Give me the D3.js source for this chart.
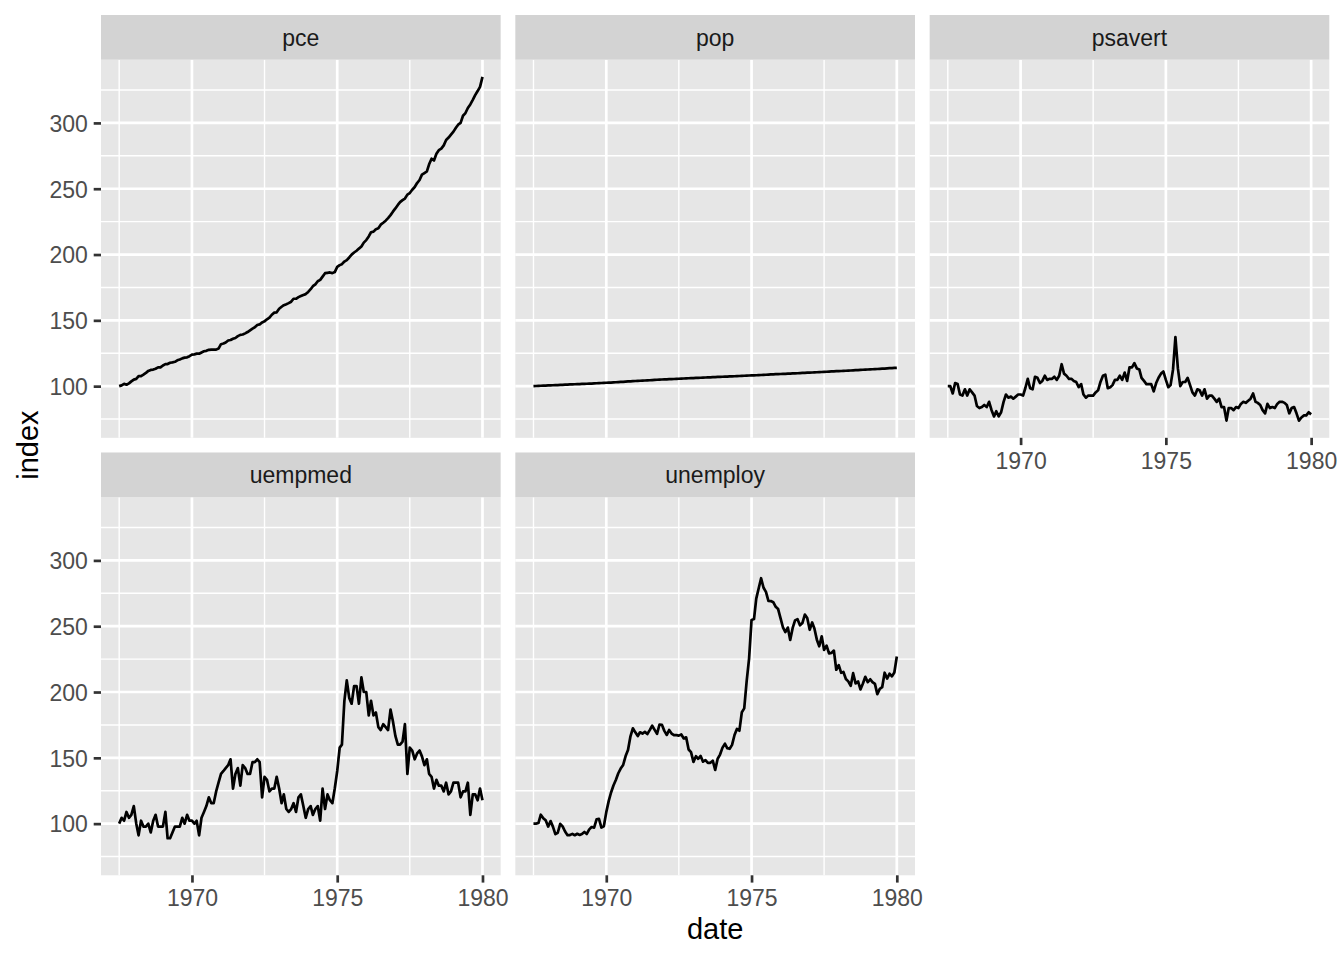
<!DOCTYPE html>
<html><head><meta charset="utf-8">
<script src="https://cdn.jsdelivr.net/npm/d3@7"></script>
<style>
body{margin:0;background:#fff}
svg{display:block}
text{font-family:"Liberation Sans",Arial,Helvetica,sans-serif}
</style>
</head><body>
<svg id="chart" width="1344" height="960"></svg>
<script>
// ---- data (economics, 1967-07 .. 1980-01, monthly) ----
const facetNames = ["pce", "pop", "psavert", "uempmed", "unemploy"];
const startMonth = [1967, 6];   // July 1967 (0-based month)
const endMonth = [1980, 0];     // January 1980
const xTickYears = [1970, 1975, 1980];
const xMinorYears = [1967.5, 1972.5, 1977.5];
const yTicks = [100, 150, 200, 250, 300];
const yMinor = [75, 125, 175, 225, 275, 325];

const pce = [
506.7,509.8,515.6,512.2,517.4,525.1,
532.0,534.7,545.4,545.1,550.9,557.4,565.5,569.3,570.5,573.9,579.0,578.8,
586.4,591.6,591.8,596.9,598.4,600.5,606.3,609.3,613.7,616.4,617.7,622.1,
628.0,629.2,631.8,631.7,636.5,640.9,642.6,646.7,647.4,647.1,647.3,651.5,
668.2,670.7,674.8,682.5,684.3,689.1,692.2,699.4,704.2,705.5,709.9,715.0,
721.7,728.4,733.3,742.1,744.3,752.1,756.2,764.0,770.3,781.7,789.7,791.0,
804.6,812.4,818.4,822.2,826.3,831.8,843.2,843.1,849.4,853.8,857.9,861.0,
869.6,880.0,891.5,898.5,910.5,916.0,928.5,941.6,943.1,944.4,941.8,946.0,
965.8,972.6,976.4,986.4,991.7,1002.1,1013.0,1021.1,1028.1,1036.3,1044.2,1059.4,
1068.9,1083.0,1099.2,1101.6,1110.8,1114.3,1128.4,1135.8,1143.7,1153.5,1165.1,1178.4,
1190.9,1204.4,1215.1,1222.8,1228.8,1244.0,1250.1,1262.8,1273.3,1288.7,1300.3,1321.0,
1327.1,1333.4,1360.7,1382.1,1375.4,1401.1,1415.1,1421.0,1433.5,1454.3,1463.8,1475.1,
1486.6,1501.4,1513.2,1520.0,1547.7,1558.1,1577.7,1591.4,1608.9,1626.9,1642.7,1659.1,
1697.3];

const pop = [
198712,198911,199113,199311,199498,199657,
199808,199920,200056,200208,200361,200536,200706,200898,201095,201290,201466,201621,
201760,201881,202023,202161,202331,202507,202677,202877,203090,203302,203500,203675,
203849,204008,204156,204401,204607,204830,205052,205295,205540,205788,206024,206238,
206466,206668,206855,207065,207260,207462,207661,207881,208114,208345,208555,208740,
208917,209061,209212,209386,209545,209725,209896,210075,210268,210465,210642,210807,
210985,211120,211254,211420,211577,211746,211909,212092,212289,212475,212634,212785,
212932,213074,213211,213361,213513,213686,213854,214042,214246,214451,214625,214782,
214931,215065,215198,215353,215523,215768,215973,216195,216393,216587,216771,216931,
217095,217249,217381,217528,217685,217861,218035,218233,218440,218644,218834,219006,
219179,219344,219504,219684,219859,220046,220239,220458,220688,220904,221109,221303,
221477,221629,221792,221991,222176,222379,222585,222805,223053,223271,223477,223670,
223865,224053,224235,224438,224632,224843,225055,225295,225547,225801,226027,226243,
226451];

const psavert = [
12.6,12.6,11.9,12.9,12.8,11.8,
11.7,12.3,11.7,12.3,12.0,11.7,10.7,10.5,10.6,10.8,10.6,11.1,
10.3,9.7,10.2,9.7,10.1,11.1,11.8,11.5,11.6,11.4,11.6,11.8,
11.8,11.7,12.4,13.3,12.4,12.3,13.5,13.4,12.9,13.1,13.6,13.2,
13.3,13.3,13.5,13.2,13.6,14.7,13.8,13.6,13.3,13.3,13.1,13.0,
12.5,12.8,11.8,11.5,11.7,11.7,11.7,12.0,12.2,13.0,13.6,13.7,
12.4,12.5,12.7,13.2,13.2,13.6,13.2,13.9,13.1,14.4,14.4,14.8,
14.3,14.2,13.4,13.1,12.8,12.8,12.8,12.1,12.9,13.4,13.8,14.0,
13.2,12.5,12.7,14.2,17.3,14.3,12.6,13.0,13.0,13.4,12.7,12.0,
11.7,12.3,12.2,11.7,12.3,11.4,11.7,11.7,11.4,11.1,11.4,10.6,
10.6,9.3,10.5,10.5,10.3,10.6,10.5,10.9,11.1,11.0,11.2,11.4,
11.9,11.1,11.0,10.8,10.3,10.0,10.9,10.5,10.6,10.5,10.9,11.1,
11.1,11.0,10.8,10.0,10.5,10.6,10.0,9.3,9.6,9.8,9.8,10.1,
9.9];

const uempmed = [
4.5,4.7,4.6,4.9,4.7,4.8,
5.1,4.5,4.1,4.6,4.4,4.4,4.5,4.2,4.6,4.8,4.4,4.4,
4.4,4.9,4.0,4.0,4.2,4.4,4.4,4.4,4.7,4.5,4.8,4.6,
4.6,4.5,4.6,4.1,4.7,4.9,5.1,5.4,5.2,5.2,5.6,5.9,
6.2,6.3,6.4,6.5,6.7,5.7,6.2,6.4,5.8,6.5,6.4,6.2,
6.2,6.6,6.6,6.7,6.6,5.4,6.1,6.0,5.6,5.7,5.7,6.1,
5.7,5.2,5.5,5.0,4.9,5.0,5.2,4.9,5.4,5.5,5.1,4.7,
5.0,5.1,4.8,5.0,5.1,4.6,5.7,5.0,5.5,5.3,5.2,5.7,
6.3,7.1,7.2,8.7,9.4,8.8,8.6,9.2,9.2,8.6,9.5,9.0,
9.0,8.2,8.7,8.2,8.3,7.8,7.7,7.9,7.8,7.7,8.4,8.0,
7.5,7.2,7.2,7.3,7.9,6.2,7.1,7.0,6.7,6.9,7.0,6.8,
6.5,6.7,6.2,6.1,5.7,6.0,5.8,5.8,5.6,5.9,5.5,5.6,
5.9,5.9,5.9,5.4,5.6,5.6,5.9,4.8,5.5,5.5,5.3,5.7,
5.3];

const unemploy = [
2944,2945,2958,3143,3066,3018,
2878,3001,2877,2709,2740,2938,2883,2768,2686,2689,2715,2685,
2718,2692,2712,2758,2713,2816,2868,2856,3040,3049,2856,2884,
3201,3453,3635,3797,3919,4071,4175,4256,4456,4591,4898,5076,
4986,4903,4987,4959,4996,4949,5035,5134,5042,4954,5161,5154,
5019,4928,5038,4959,4922,4923,4913,4939,4849,4875,4602,4543,
4326,4452,4394,4459,4329,4363,4305,4305,4350,4144,4396,4489,
4644,4731,4634,4618,4705,4927,5063,5022,5437,5523,6140,6636,
7501,7520,7978,8210,8433,8220,8127,7928,7923,7897,7794,7744,
7534,7326,7230,7330,7053,7322,7490,7518,7380,7430,7620,7545,
7280,7443,7307,7059,6911,7134,6829,6925,6751,6763,6815,6386,
6489,6318,6337,6180,6127,6028,6309,6080,6125,5947,6077,6228,
6109,6173,6109,6069,5840,5959,5996,6320,6190,6296,6238,6325,
6683];

// ---- build index table ----
const seriesList = [pce, pop, psavert, uempmed, unemploy];
const d0 = new Date(Date.UTC(startMonth[0], startMonth[1], 1));
const d1 = new Date(Date.UTC(endMonth[0], endMonth[1], 1));
const dates = d3.utcMonth.range(d0, new Date(+d1 + 86400000));
const facets = facetNames.map((name, k) => {
  const s = seriesList[k];
  return {name, k, values: s.map((v, i) => ({date: dates[i], index: v / s[0] * 100}))};
});

// ---- layout ----
const svg = d3.select("#chart");
const areaLeft = 101, areaRight = 1329.3, areaTop = 15, areaBottom = 875.3;
const gap = 14.67, stripH = 44.7;
const panelW = (areaRight - areaLeft - 2 * gap) / 3;
const panelH = (areaBottom - areaTop - gap) / 2 - stripH;
const textCol = "#4D4D4D";

const span = d1 - d0;
const x = d3.scaleUtc()
  .domain([new Date(+d0 - span * 0.05), new Date(+d1 + span * 0.05)])
  .range([0, panelW]);
const allIdx = facets.flatMap(f => f.values.map(d => d.index));
const ymin = d3.min(allIdx), ymax = d3.max(allIdx), yr = ymax - ymin;
const y = d3.scaleLinear()
  .domain([ymin - yr * 0.05, ymax + yr * 0.05])
  .range([panelH, 0]);

const yearDate = yv => new Date(Date.UTC(Math.floor(yv), Math.round((yv % 1) * 12), 1));

const lineGen = d3.line().x(d => x(d.date)).y(d => y(d.index));

facets.forEach(f => {
  const col = f.k % 3, row = Math.floor(f.k / 3);
  const px = areaLeft + col * (panelW + gap);
  const sy = areaTop + row * (stripH + panelH + gap);
  const py = sy + stripH;
  const g = svg.append("g").attr("transform", `translate(${px},${py})`);

  // strip
  svg.append("rect").attr("x", px).attr("y", sy).attr("width", panelW).attr("height", stripH)
    .attr("fill", "#D3D3D3");
  svg.append("text").attr("x", px + panelW / 2).attr("y", sy + stripH / 2 + 8.2)
    .attr("text-anchor", "middle").attr("font-size", 23).attr("fill", "#1A1A1A").text(f.name);

  // panel background
  g.append("rect").attr("width", panelW).attr("height", panelH).attr("fill", "#E6E6E6");

  // minor grid
  yMinor.forEach(v => g.append("line").attr("x1", 0).attr("x2", panelW)
    .attr("y1", y(v)).attr("y2", y(v)).attr("stroke", "#fff").attr("stroke-width", 1.4));
  xMinorYears.forEach(v => g.append("line").attr("y1", 0).attr("y2", panelH)
    .attr("x1", x(yearDate(v))).attr("x2", x(yearDate(v))).attr("stroke", "#fff").attr("stroke-width", 1.4));
  // major grid
  yTicks.forEach(v => g.append("line").attr("x1", 0).attr("x2", panelW)
    .attr("y1", y(v)).attr("y2", y(v)).attr("stroke", "#fff").attr("stroke-width", 2.7));
  xTickYears.forEach(v => g.append("line").attr("y1", 0).attr("y2", panelH)
    .attr("x1", x(yearDate(v))).attr("x2", x(yearDate(v))).attr("stroke", "#fff").attr("stroke-width", 2.7));

  // data line
  g.append("path").datum(f.values).attr("d", lineGen)
    .attr("fill", "none").attr("stroke", "#000").attr("stroke-width", 2.7)
    .attr("stroke-linejoin", "round").attr("stroke-linecap", "butt");

  // y axis on left column
  if (col === 0) {
    const ya = d3.axisLeft(y).tickValues(yTicks).tickSize(7.3).tickPadding(5.9);
    const ag = g.append("g").call(ya);
    ag.select(".domain").remove();
    ag.attr("font-family", null).attr("font-size", null);
    ag.selectAll(".tick line").attr("stroke", "#333333").attr("stroke-width", 2.7);
    ag.selectAll(".tick text").attr("font-size", 23).attr("fill", textCol).attr("dy", "0.36em");
  }
  // x axis on bottom-most panel of each column
  if (f.k + 3 >= facets.length) {
    const xa = d3.axisBottom(x).tickValues(xTickYears.map(yearDate))
      .tickFormat(d3.utcFormat("%Y")).tickSize(7.3).tickPadding(5.9);
    const ag = g.append("g").attr("transform", `translate(0,${panelH})`).call(xa);
    ag.select(".domain").remove();
    ag.attr("font-family", null).attr("font-size", null);
    ag.selectAll(".tick line").attr("stroke", "#333333").attr("stroke-width", 2.7);
    ag.selectAll(".tick text").attr("font-size", 23).attr("fill", textCol).attr("dy", "0.77em");
  }
});

// axis titles
svg.append("text").attr("x", (areaLeft + areaRight) / 2).attr("y", 939)
  .attr("text-anchor", "middle").attr("font-size", 29).attr("fill", "#000").text("date");
svg.append("text").attr("transform", `translate(38,${(areaTop + areaBottom) / 2}) rotate(-90)`)
  .attr("text-anchor", "middle").attr("font-size", 29).attr("fill", "#000").text("index");
</script>
</body></html>
